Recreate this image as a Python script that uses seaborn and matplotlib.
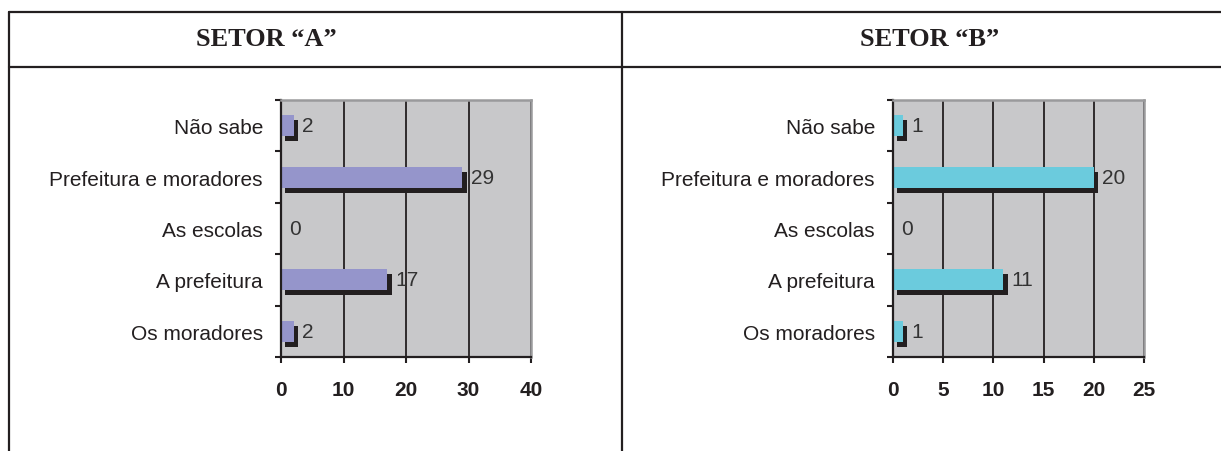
import numpy as np
import matplotlib
matplotlib.use("Agg")
import matplotlib.pyplot as plt
import matplotlib.patheffects as pe
from matplotlib.lines import Line2D
import seaborn as sns

# dados
categorias = ["Não sabe", "Prefeitura e moradores", "As escolas", "A prefeitura", "Os moradores"]
setor_a = [2, 29, 0, 17, 2]
setor_b = [1, 20, 0, 11, 1]
titulos = ["SETOR \u201cA\u201d", "SETOR \u201cB\u201d"]
ticks_a = [0, 10, 20, 30, 40]
ticks_b = [0, 5, 10, 15, 20, 25]

sns.set_style("white")
plt.rcParams["font.family"] = ["Liberation Sans", "DejaVu Sans"]

fig = plt.figure(figsize=(12.21, 4.52), dpi=100)

# moldura da tabela
for coords in [([9/1221, 1], [1-13/452, 1-13/452]),
               ([9/1221, 1], [1-68/452, 1-68/452]),
               ([9/1221, 9/1221], [0, 1-13/452]),
               ([622/1221, 622/1221], [0, 1-13/452])]:
    fig.add_artist(Line2D(coords[0], coords[1], color="#231f20", lw=1.6,
                          transform=fig.transFigure))

def painel(rect, valores, ticks, cor, titulo, tx):
    fig.text(tx, 1-40/452, titulo, ha="center", va="center", fontsize=19,
             fontweight="bold", family=["Liberation Serif", "DejaVu Serif"],
             color="#231f20")
    ax = fig.add_axes(rect)
    sns.barplot(x=valores, y=categorias, orient="h", color=cor, width=0.41,
                saturation=1, ax=ax)
    ax.set_facecolor("#C8C8CA")
    ax.set_axisbelow(True)
    ax.set_xlim(ticks[0], ticks[-1])
    ax.set_xticks(ticks)
    ax.set_xticklabels([str(t) for t in ticks], fontweight="bold", fontsize=15,
                       color="#231f20")
    ax.grid(axis="x", color="#231f20", lw=1.3)
    ax.grid(axis="y", visible=False)
    ax.set_yticks(np.arange(-0.5, len(categorias), 1), minor=True)
    ax.tick_params(axis="y", which="major", length=0, pad=13, labelsize=15,
                   labelcolor="#231f20")
    ax.tick_params(axis="y", which="minor", length=4, width=1.5, color="#231f20",
                   left=True)
    ax.tick_params(axis="x", which="major", length=4.5, width=1.5, color="#231f20",
                   pad=12, bottom=True)
    for s in ["left", "bottom"]:
        ax.spines[s].set_color("#231f20")
        ax.spines[s].set_linewidth(1.6)
    for s in ["top", "right"]:
        ax.spines[s].set_visible(True)
        ax.spines[s].set_color("#9a9a9c")
        ax.spines[s].set_linewidth(1.8)
    for bar in ax.patches:
        bar.set_edgecolor("none")
        bar.set_path_effects([pe.SimplePatchShadow(offset=(3.2, -3.6),
                                                   shadow_rgbFace="#231f20",
                                                   alpha=1.0),
                              pe.Normal()])
    for cont in ax.containers:
        ax.bar_label(cont, labels=[str(v) for v in valores], padding=6,
                     fontsize=15, color="#333333")
    ax.set_xlabel("")
    ax.set_ylabel("")
    return ax

painel([281/1221, 1-358/452, 250/1221, 257/452], setor_a, ticks_a, "#9595CB",
       titulos[0], 266/1221)
painel([893/1221, 1-358/452, 251/1221, 257/452], setor_b, ticks_b, "#6BCBDD",
       titulos[1], 930/1221)

fig.savefig("out.png", dpi=100)
